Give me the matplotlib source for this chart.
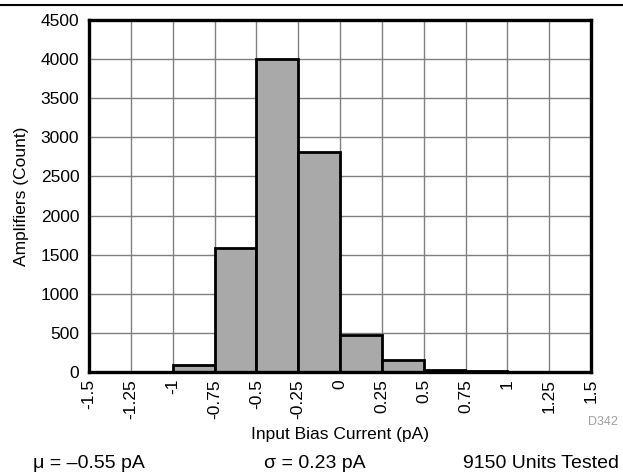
import matplotlib
matplotlib.use("Agg")
import matplotlib.pyplot as plt
import numpy as np

plt.rcParams['font.family'] = ['Liberation Sans', 'DejaVu Sans']

bin_edges = [-1.5, -1.25, -1.0, -0.75, -0.5, -0.25, 0.0, 0.25, 0.5, 0.75, 1.0, 1.25, 1.5]
counts = [0, 0, 95, 1580, 4000, 2810, 470, 155, 30, 10, 0, 0]
tick_labels = ["-1.5", "-1.25", "-1", "-0.75", "-0.5", "-0.25", "0",
               "0.25", "0.5", "0.75", "1", "1.25", "1.5"]
y_ticks = [0, 500, 1000, 1500, 2000, 2500, 3000, 3500, 4000, 4500]

W, H = 623, 472
fig = plt.figure(figsize=(W / 100, H / 100), dpi=100)
ax = fig.add_axes([89 / W, 1 - 372 / H, (591 - 89) / W, (372 - 20) / H])

lefts = np.array(bin_edges[:-1])
widths = np.diff(bin_edges)
ax.bar(lefts, counts, width=widths, align='edge', color='#a9a9a9',
       edgecolor='black', linewidth=2, zorder=3)

ax.set_xlim(-1.5, 1.5)
ax.set_ylim(0, 4500)
ax.set_xticks(bin_edges)
ax.set_xticklabels(tick_labels, rotation=90, fontsize=12.5)
ax.set_yticks(y_ticks)
ax.set_yticklabels([str(v) for v in y_ticks], fontsize=12.5)
ax.tick_params(axis='x', length=0, pad=5)
ax.tick_params(axis='y', length=0, pad=7)
ax.grid(True, color='#808080', linewidth=1, zorder=0)
for s in ax.spines.values():
    s.set_linewidth(2.4)
    s.set_zorder(4)

ax.set_ylabel("Amplifiers (Count)", fontsize=12.5, labelpad=8)
ax.set_xlabel("Input Bias Current (pA)", fontsize=12.5, labelpad=6)

fig.text(603 / W, 1 - 422 / H, "D342", color='#a0a0a0', fontsize=9,
         ha='center', va='center')
fig.text(33 / W, 1 - 463 / H, "\u03bc = \u20130.55 pA", fontsize=14,
         ha='left', va='center')
fig.text(315 / W, 1 - 463 / H, "\u03c3 = 0.23 pA", fontsize=14,
         ha='center', va='center')
fig.text(619 / W, 1 - 463 / H, "9150 Units Tested", fontsize=14,
         ha='right', va='center')

fig.add_artist(plt.Line2D([0, 1], [1 - 5 / H, 1 - 5 / H], color='black',
                          linewidth=1.5, transform=fig.transFigure))

fig.savefig("out.png", dpi=100)
